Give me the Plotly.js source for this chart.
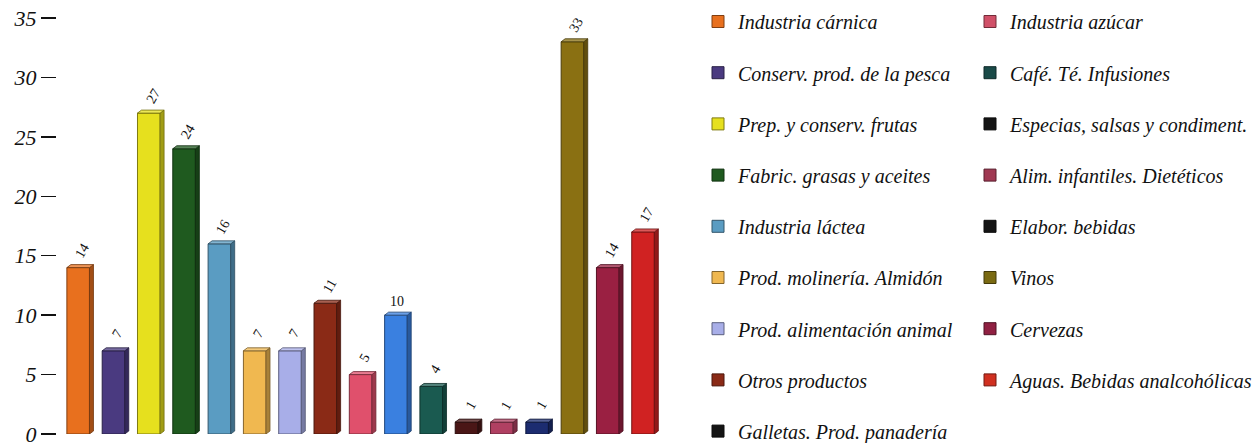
<!DOCTYPE html>
<html>
<head>
<meta charset="utf-8">
<script src="https://cdn.plot.ly/plotly-3.0.1.min.js"></script>
<style>
html,body{margin:0;padding:0;background:#fff;}
#chart{width:1259px;height:443px;}
</style>
</head>
<body>
<div id="chart"></div>
<script>
// ---- data ----
const categories = [
  "Industria cárnica", "Conserv. prod. de la pesca", "Prep. y conserv. frutas",
  "Fabric. grasas y aceites", "Industria láctea", "Prod. molinería. Almidón",
  "Prod. alimentación animal", "Otros productos", "Galletas. Prod. panadería",
  "Industria azúcar", "Café. Té. Infusiones", "Especias, salsas y condiment.",
  "Alim. infantiles. Dietéticos", "Elabor. bebidas", "Vinos", "Cervezas",
  "Aguas. Bebidas analcohólicas"
];
const values = [14, 7, 27, 24, 16, 7, 7, 11, 5, 10, 4, 1, 1, 1, 33, 14, 17];
const yTickVals = [0, 5, 10, 15, 20, 25, 30, 35];

// ---- styles ----
const barColors = ["#E8701E", "#4A3A80", "#E6E01E", "#1F5A1F", "#5A9CC2", "#F0B850",
  "#A8AEE8", "#8A2A16", "#E0506C", "#3A80E0", "#1A5A50", "#4A1616", "#B04062",
  "#1C2C70", "#8A7012", "#9A2042", "#D02222"];
const legendColors = ["#E8701E", "#4A3A80", "#E6E01E", "#1F5A1F", "#5A9CC2", "#F0B850",
  "#A8AEE8", "#8A2A16", "#141414", "#D05068", "#1A4A48", "#141414", "#A03852",
  "#141414", "#7A6A12", "#902042", "#D03020"];
const labelAngles = [-60, -60, -60, -60, -60, -60, -60, -60, -60, 0, -60, -60, -60, -60, -60, -60, -60];
const SERIF = "Liberation Serif";

function shade(hex, f) {
  const n = parseInt(hex.slice(1), 16);
  let r = (n >> 16) & 255, g = (n >> 8) & 255, b = n & 255;
  if (f < 1) { r *= f; g *= f; b *= f; }
  else { r += (255 - r) * (f - 1); g += (255 - g) * (f - 1); b += (255 - b) * (f - 1); }
  return "rgb(" + Math.round(r) + "," + Math.round(g) + "," + Math.round(b) + ")";
}

const BAR_W = 0.64;
const traces = [];
traces.push({
  type: "bar", x: categories, y: values, width: BAR_W,
  marker: { color: barColors, line: { color: barColors.map(c => shade(c, 0.55)), width: 1 } },
  showlegend: false, hoverinfo: "x+y"
});
categories.forEach((c, i) => {
  traces.push({
    type: "bar", x: [c], y: [null], name: c,
    marker: { color: legendColors[i], line: { color: shade(legendColors[i], 0.55), width: 1 } },
    legend: i < 9 ? "legend" : "legend2",
    legendgroup: "g" + i, showlegend: true, hoverinfo: "skip"
  });
});

const shapes = [];
const annotations = [];
categories.forEach((c, i) => {
  const v = values[i];
  const col = barColors[i];
  shapes.push({
    type: "path", xref: "x", yref: "y", xsizemode: "pixel", xanchor: i + BAR_W / 2,
    path: "M0,0 L4,0.25 L4," + (v + 0.25) + " L0," + v + " Z",
    fillcolor: shade(col, 0.7), line: { color: shade(col, 0.5), width: 0.8 }
  });
  shapes.push({
    type: "path", xref: "x", yref: "y", xsizemode: "pixel", ysizemode: "pixel",
    xanchor: i, yanchor: v,
    path: "M-11.3,0 L-7.3,3 L15.3,3 L11.3,0 Z",
    fillcolor: shade(col, 1.25), line: { color: shade(col, 0.5), width: 0.8 }
  });
  annotations.push({
    x: c, y: v, xref: "x", yref: "y", text: String(v), showarrow: false,
    textangle: labelAngles[i], yshift: labelAngles[i] === 0 ? 14 : 17, xshift: labelAngles[i] === 0 ? 1 : 4,
    font: { family: SERIF, size: 14 }
  });
});

const layout = {
  width: 1259, height: 443,
  margin: { l: 57, r: 599, t: 18, b: 8.5, pad: 0 },
  paper_bgcolor: "#fff", plot_bgcolor: "#fff",
  barmode: "overlay",
  font: { family: SERIF, color: "#111" },
  xaxis: { type: "category", range: [-0.6, 16.48], showticklabels: false, showgrid: false,
           zeroline: false, showline: false, ticks: "", fixedrange: true },
  yaxis: { range: [0, 35], tickvals: yTickVals, ticks: "outside", ticklen: 15, tickwidth: 1.5,
           tickcolor: "#111", showgrid: false, zeroline: false, showline: false,
           ticklabeloverflow: "allow",
           tickfont: { family: SERIF, size: 22, style: "italic" } },
  legend: { xref: "container", yref: "container", xanchor: "left", yanchor: "top",
            font: { family: SERIF, size: 20, style: "italic" },
            tracegroupgap: 22.2, bgcolor: "rgba(0,0,0,0)", maxheight: 1000 },
  legend2: { xref: "container", yref: "container", xanchor: "left", yanchor: "top",
             font: { family: SERIF, size: 20, style: "italic" },
             tracegroupgap: 22.2, bgcolor: "rgba(0,0,0,0)", maxheight: 1000 },
  shapes: shapes,
  annotations: annotations,
  showlegend: true
};
layout.legend.x = 698 / 1259; layout.legend.y = 1 - 2 / 443;
layout.legend2.x = 970 / 1259; layout.legend2.y = 1 - 2 / 443;

Plotly.newPlot("chart", traces, layout, { displayModeBar: false, staticPlot: true });
</script>
</body>
</html>
